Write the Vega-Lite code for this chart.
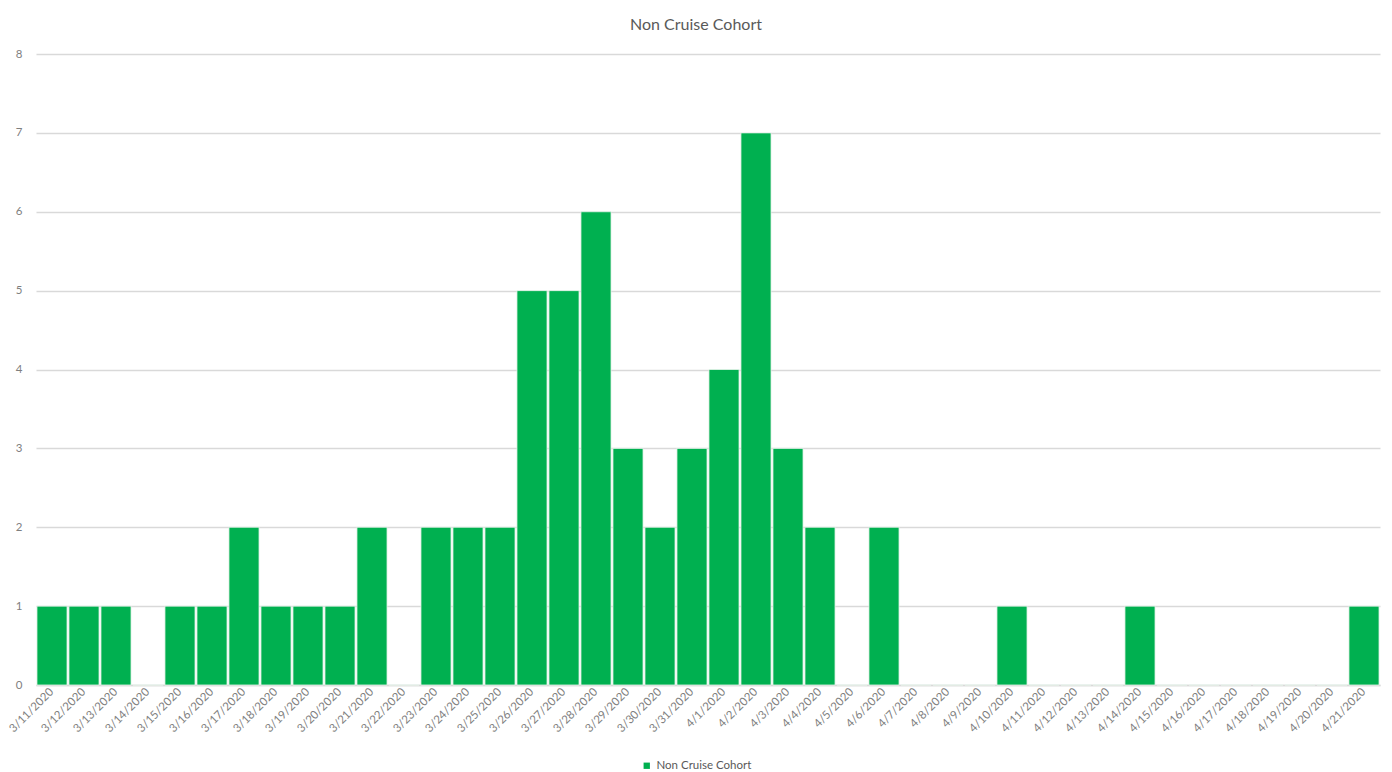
{
  "$schema": "https://vega.github.io/schema/vega-lite/v6.json",
  "autosize": {"type": "none"},
  "padding": {"left": 36, "top": 54, "right": 12, "bottom": 87},
  "width": 1344,
  "height": 631,
  "background": "white",
  "title": {"text": "Non Cruise Cohort", "fontSize": 16, "font": "Lato", "fontWeight": "normal", "color": "#595959", "anchor": "middle", "dx": -12, "offset": 15},
  "data": {"values": [
    {"date": "3/11/2020", "count": 1, "series": "Non Cruise Cohort"},
    {"date": "3/12/2020", "count": 1, "series": "Non Cruise Cohort"},
    {"date": "3/13/2020", "count": 1, "series": "Non Cruise Cohort"},
    {"date": "3/14/2020", "count": 0, "series": "Non Cruise Cohort"},
    {"date": "3/15/2020", "count": 1, "series": "Non Cruise Cohort"},
    {"date": "3/16/2020", "count": 1, "series": "Non Cruise Cohort"},
    {"date": "3/17/2020", "count": 2, "series": "Non Cruise Cohort"},
    {"date": "3/18/2020", "count": 1, "series": "Non Cruise Cohort"},
    {"date": "3/19/2020", "count": 1, "series": "Non Cruise Cohort"},
    {"date": "3/20/2020", "count": 1, "series": "Non Cruise Cohort"},
    {"date": "3/21/2020", "count": 2, "series": "Non Cruise Cohort"},
    {"date": "3/22/2020", "count": 0, "series": "Non Cruise Cohort"},
    {"date": "3/23/2020", "count": 2, "series": "Non Cruise Cohort"},
    {"date": "3/24/2020", "count": 2, "series": "Non Cruise Cohort"},
    {"date": "3/25/2020", "count": 2, "series": "Non Cruise Cohort"},
    {"date": "3/26/2020", "count": 5, "series": "Non Cruise Cohort"},
    {"date": "3/27/2020", "count": 5, "series": "Non Cruise Cohort"},
    {"date": "3/28/2020", "count": 6, "series": "Non Cruise Cohort"},
    {"date": "3/29/2020", "count": 3, "series": "Non Cruise Cohort"},
    {"date": "3/30/2020", "count": 2, "series": "Non Cruise Cohort"},
    {"date": "3/31/2020", "count": 3, "series": "Non Cruise Cohort"},
    {"date": "4/1/2020", "count": 4, "series": "Non Cruise Cohort"},
    {"date": "4/2/2020", "count": 7, "series": "Non Cruise Cohort"},
    {"date": "4/3/2020", "count": 3, "series": "Non Cruise Cohort"},
    {"date": "4/4/2020", "count": 2, "series": "Non Cruise Cohort"},
    {"date": "4/5/2020", "count": 0, "series": "Non Cruise Cohort"},
    {"date": "4/6/2020", "count": 2, "series": "Non Cruise Cohort"},
    {"date": "4/7/2020", "count": 0, "series": "Non Cruise Cohort"},
    {"date": "4/8/2020", "count": 0, "series": "Non Cruise Cohort"},
    {"date": "4/9/2020", "count": 0, "series": "Non Cruise Cohort"},
    {"date": "4/10/2020", "count": 1, "series": "Non Cruise Cohort"},
    {"date": "4/11/2020", "count": 0, "series": "Non Cruise Cohort"},
    {"date": "4/12/2020", "count": 0, "series": "Non Cruise Cohort"},
    {"date": "4/13/2020", "count": 0, "series": "Non Cruise Cohort"},
    {"date": "4/14/2020", "count": 1, "series": "Non Cruise Cohort"},
    {"date": "4/15/2020", "count": 0, "series": "Non Cruise Cohort"},
    {"date": "4/16/2020", "count": 0, "series": "Non Cruise Cohort"},
    {"date": "4/17/2020", "count": 0, "series": "Non Cruise Cohort"},
    {"date": "4/18/2020", "count": 0, "series": "Non Cruise Cohort"},
    {"date": "4/19/2020", "count": 0, "series": "Non Cruise Cohort"},
    {"date": "4/20/2020", "count": 0, "series": "Non Cruise Cohort"},
    {"date": "4/21/2020", "count": 1, "series": "Non Cruise Cohort"}
  ]},
  "mark": {"type": "bar", "stroke": "#e8f5ec", "strokeWidth": 0.8},
  "encoding": {
    "x": {
      "field": "date", "type": "ordinal", "sort": null,
      "scale": {"paddingInner": 0.06, "paddingOuter": 0.03},
      "axis": {
        "title": null, "labelAngle": -45, "labelAlign": "right", "labelBaseline": "middle",
        "labelPadding": 5, "ticks": false, "domainColor": "#d9d9d9", "domainWidth": 1.5,
        "labelFont": "Lato", "labelFontSize": 11.5, "labelColor": "#7f7f7f", "labelOverlap": false
      }
    },
    "y": {
      "field": "count", "type": "quantitative",
      "scale": {"domain": [0, 8], "nice": false},
      "axis": {
        "title": null, "values": [0, 1, 2, 3, 4, 5, 6, 7, 8], "ticks": false, "domain": false,
        "gridColor": "#d9d9d9", "gridWidth": 1.5, "labelPadding": 14,
        "labelFont": "Lato", "labelFontSize": 11.5, "labelColor": "#7f7f7f"
      }
    },
    "color": {
      "field": "series", "type": "nominal",
      "scale": {"range": ["#00B050"]},
      "legend": {
        "title": null, "orient": "none", "legendX": 605, "legendY": 706,
        "symbolType": "square", "symbolSize": 40, "symbolStrokeWidth": 0,
        "labelFont": "Lato", "labelFontSize": 11.5, "labelColor": "#595959", "labelOffset": 4
      }
    }
  },
  "config": {"view": {"stroke": null}}
}
